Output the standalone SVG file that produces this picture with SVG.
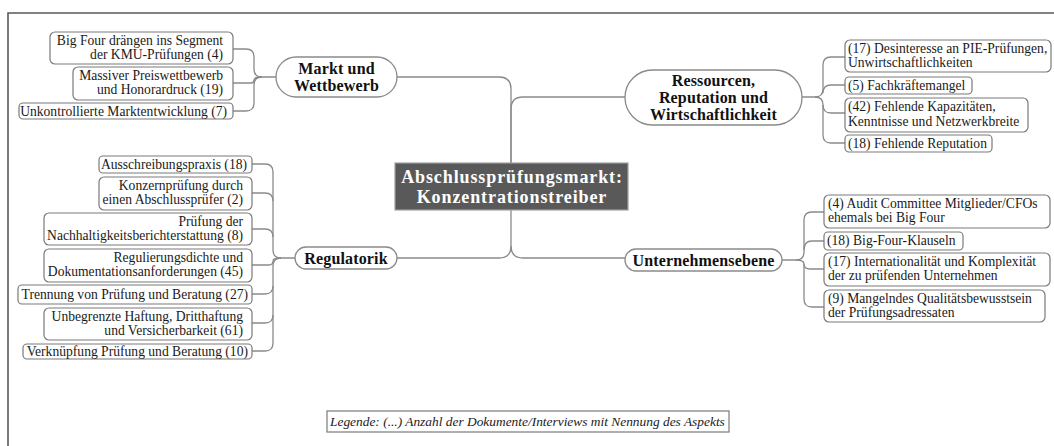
<svg xmlns="http://www.w3.org/2000/svg" width="1054" height="446" viewBox="0 0 1054 446">
  <style>
    .frame { fill: none; stroke: #5a5a5a; stroke-width: 1.6; }
    .conn { fill: none; stroke: #8a8a8a; stroke-width: 1.3; }
    .leaf { fill: #ffffff; stroke: #7a7a7a; stroke-width: 1.2; }
    .topic { fill: #ffffff; stroke: #8a8a8a; stroke-width: 1.3; }
    .core { fill: #595959; stroke: #a0a0a0; stroke-width: 1.2; }
    .lt { font-family: "Liberation Serif", "Times New Roman", serif; font-size: 13.6px; fill: #1a1a1a; }
    .end { text-anchor: end; }
    .tt { font-family: "Liberation Serif", "Times New Roman", serif; font-size: 16px; font-weight: bold; fill: #111111; text-anchor: middle; letter-spacing: 0.15px; }
    .ct { font-family: "Liberation Serif", "Times New Roman", serif; font-size: 18px; font-weight: bold; fill: #ffffff; text-anchor: middle; letter-spacing: 0.9px; }
    .lg { font-family: "Liberation Serif", "Times New Roman", serif; font-size: 13.4px; font-style: italic; fill: #1a1a1a; }
  </style>

  <!-- outer frame (top and left edges) -->
  <path class="frame" d="M 1054 13 H 8 V 446"/>

  <!-- connectors -->
  <g id="connectors">
    <!-- central stem and main branches -->
    <path class="conn" d="M 397 77 H 499 Q 511 77 511 89 V 163"/>
    <path class="conn" d="M 511 163 V 109 Q 511 97 523 97 H 625"/>
    <path class="conn" d="M 511 210 V 246 Q 511 258 499 258 H 397"/>
    <path class="conn" d="M 511 246 Q 511 258 523 258 H 625"/>

    <!-- Markt und Wettbewerb -->
    <path class="conn" d="M 276 77 H 262 Q 254 77 254 69 V 57 Q 254 49 246 49 H 233"/>
    <path class="conn" d="M 262 77 Q 254 77 254 80 Q 254 83 251 83 H 233"/>
    <path class="conn" d="M 262 77 Q 254 77 254 85 V 103 Q 254 111 246 111 H 233"/>

    <!-- Regulatorik -->
    <path class="conn" d="M 295 258 H 281 Q 273 258 273 250 V 172 Q 273 164 265 164 H 252"/>
    <path class="conn" d="M 273 201 Q 273 193 265 193 H 252"/>
    <path class="conn" d="M 273 237 Q 273 229 265 229 H 252"/>
    <path class="conn" d="M 281 258 Q 273 258 273 261 Q 273 265 269 265 H 252"/>
    <path class="conn" d="M 281 258 Q 273 258 273 266 V 286 Q 273 294 265 294 H 252"/>
    <path class="conn" d="M 273 315 Q 273 323 265 323 H 252"/>
    <path class="conn" d="M 273 286 V 343 Q 273 351 265 351 H 252"/>

    <!-- Ressourcen, Reputation und Wirtschaftlichkeit -->
    <path class="conn" d="M 802 97 H 815 Q 823 97 823 89 V 65 Q 823 57 831 57 H 845"/>
    <path class="conn" d="M 823 93 Q 823 85 831 85 H 845"/>
    <path class="conn" d="M 815 97 Q 823 97 823 105 Q 823 113 831 113 H 845"/>
    <path class="conn" d="M 823 105 V 135 Q 823 143 831 143 H 845"/>

    <!-- Unternehmensebene -->
    <path class="conn" d="M 782 260 H 796 Q 804 260 804 252 V 220 Q 804 212 812 212 H 824"/>
    <path class="conn" d="M 804 250 Q 804 241 812 241 H 824"/>
    <path class="conn" d="M 796 260 Q 804 260 804 264 Q 804 269 810 269 H 824"/>
    <path class="conn" d="M 804 264 V 299 Q 804 307 812 307 H 824"/>
  </g>

  <!-- central topic -->
  <g id="central">
    <rect class="core" x="395" y="163" width="233" height="47"/>
    <text class="ct" x="512" y="183">Abschlussprüfungsmarkt:</text>
    <text class="ct" x="512" y="203">Konzentrationstreiber</text>
  </g>

  <!-- main topics -->
  <g id="markt">
    <rect class="topic" x="276" y="57" width="121" height="40" rx="20"/>
    <text class="tt" x="336.5" y="73.5">Markt und</text>
    <text class="tt" x="336.5" y="90.5">Wettbewerb</text>
  </g>
  <g id="ressourcen">
    <rect class="topic" x="625" y="70" width="177" height="55" rx="27.5"/>
    <text class="tt" x="713.5" y="86">Ressourcen,</text>
    <text class="tt" x="713.5" y="103">Reputation und</text>
    <text class="tt" x="713.5" y="120">Wirtschaftlichkeit</text>
  </g>
  <g id="regulatorik">
    <rect class="topic" x="295" y="247" width="102" height="22" rx="11"/>
    <text class="tt" x="346" y="263.5">Regulatorik</text>
  </g>
  <g id="unternehmensebene">
    <rect class="topic" x="625" y="249" width="157" height="22" rx="11"/>
    <text class="tt" x="703.5" y="265.5">Unternehmensebene</text>
  </g>

  <!-- Markt und Wettbewerb: details -->
  <g id="m1">
    <rect class="leaf" x="50" y="32" width="183" height="32" rx="5"/>
    <text class="lt end" x="223" y="45">Big Four drängen ins Segment</text>
    <text class="lt end" x="223" y="59">der KMU-Prüfungen (4)</text>
  </g>
  <g id="m2">
    <rect class="leaf" x="73" y="67" width="160" height="33" rx="5"/>
    <text class="lt end" x="223" y="80">Massiver Preiswettbewerb</text>
    <text class="lt end" x="223" y="94">und Honorardruck (19)</text>
  </g>
  <g id="m3">
    <rect class="leaf" x="19" y="103" width="214" height="16" rx="4"/>
    <text class="lt end" x="227" y="115.5">Unkontrollierte Marktentwicklung (7)</text>
  </g>

  <!-- Regulatorik: details -->
  <g id="r1">
    <rect class="leaf" x="99" y="156" width="153" height="17" rx="4"/>
    <text class="lt end" x="247" y="169">Ausschreibungspraxis (18)</text>
  </g>
  <g id="r2">
    <rect class="leaf" x="99" y="177" width="153" height="33" rx="5"/>
    <text class="lt end" x="243" y="190">Konzernprüfung durch</text>
    <text class="lt end" x="243" y="204">einen Abschlussprüfer (2)</text>
  </g>
  <g id="r3">
    <rect class="leaf" x="44" y="213" width="208" height="32" rx="5"/>
    <text class="lt end" x="243" y="226">Prüfung der</text>
    <text class="lt end" x="243" y="240">Nachhaltigkeitsberichterstattung (8)</text>
  </g>
  <g id="r4">
    <rect class="leaf" x="44" y="249" width="208" height="33" rx="5"/>
    <text class="lt end" x="243" y="262">Regulierungsdichte und</text>
    <text class="lt end" x="243" y="276">Dokumentationsanforderungen (45)</text>
  </g>
  <g id="r5">
    <rect class="leaf" x="18" y="285" width="234" height="19" rx="4"/>
    <text class="lt end" x="248" y="299">Trennung von Prüfung und Beratung (27)</text>
  </g>
  <g id="r6">
    <rect class="leaf" x="44" y="308" width="208" height="32" rx="5"/>
    <text class="lt end" x="243" y="321">Unbegrenzte Haftung, Dritthaftung</text>
    <text class="lt end" x="243" y="335">und Versicherbarkeit (61)</text>
  </g>
  <g id="r7">
    <rect class="leaf" x="23" y="344" width="229" height="15" rx="4"/>
    <text class="lt end" x="248" y="355.5">Verknüpfung Prüfung und Beratung (10)</text>
  </g>

  <!-- Ressourcen, Reputation und Wirtschaftlichkeit: details -->
  <g id="s1">
    <rect class="leaf" x="845" y="40" width="206" height="32" rx="5"/>
    <text class="lt" x="848" y="53">(17) Desinteresse an PIE-Prüfungen,</text>
    <text class="lt" x="848" y="67">Unwirtschaftlichkeiten</text>
  </g>
  <g id="s2">
    <rect class="leaf" x="845" y="77" width="127" height="17" rx="4"/>
    <text class="lt" x="848" y="90">(5) Fachkräftemangel</text>
  </g>
  <g id="s3">
    <rect class="leaf" x="845" y="98" width="183" height="34" rx="5"/>
    <text class="lt" x="848" y="111">(42) Fehlende Kapazitäten,</text>
    <text class="lt" x="848" y="126">Kenntnisse und Netzwerkbreite</text>
  </g>
  <g id="s4">
    <rect class="leaf" x="845" y="135" width="147" height="17" rx="4"/>
    <text class="lt" x="848" y="148">(18) Fehlende Reputation</text>
  </g>

  <!-- Unternehmensebene: details -->
  <g id="u1">
    <rect class="leaf" x="824" y="195" width="226" height="33" rx="5"/>
    <text class="lt" x="828" y="208">(4) Audit Committee Mitglieder/CFOs</text>
    <text class="lt" x="828" y="222">ehemals bei Big Four</text>
  </g>
  <g id="u2">
    <rect class="leaf" x="824" y="232" width="139" height="18" rx="4"/>
    <text class="lt" x="827" y="245">(18) Big-Four-Klauseln</text>
  </g>
  <g id="u3">
    <rect class="leaf" x="824" y="253" width="226" height="33" rx="5"/>
    <text class="lt" x="828" y="266">(17) Internationalität und Komplexität</text>
    <text class="lt" x="828" y="280">der zu prüfenden Unternehmen</text>
  </g>
  <g id="u4">
    <rect class="leaf" x="824" y="290" width="221" height="32" rx="5"/>
    <text class="lt" x="828" y="303">(9) Mangelndes Qualitätsbewusstsein</text>
    <text class="lt" x="828" y="317">der Prüfungsadressaten</text>
  </g>

  <!-- legend -->
  <g id="legend">
    <rect x="327" y="411" width="402" height="21" fill="#ffffff" stroke="#7a7a7a" stroke-width="1.2"/>
    <text class="lg" x="330" y="426">Legende: (...) Anzahl der Dokumente/Interviews mit Nennung des Aspekts</text>
  </g>
</svg>
